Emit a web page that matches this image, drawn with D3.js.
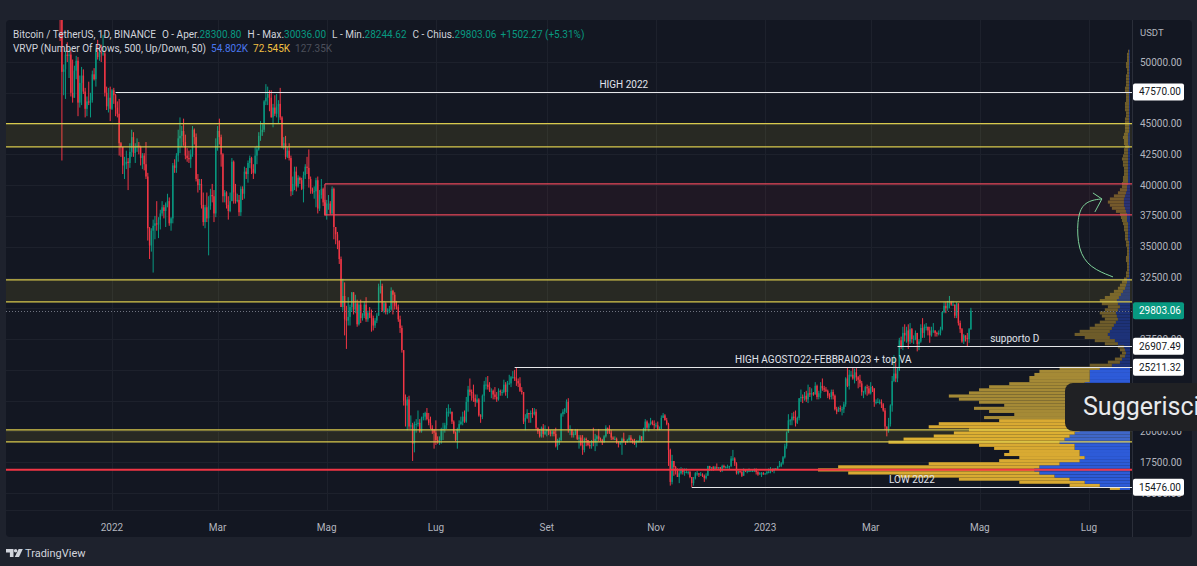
<!DOCTYPE html>
<html>
<head>
<meta charset="utf-8">
<script src="https://cdn.jsdelivr.net/npm/d3@7"></script>
<style>
  html, body { margin: 0; padding: 0; background: #1e222d; }
  svg { display: block; font-family: Roboto, "Trebuchet MS", sans-serif; }
</style>
</head>
<body>
<svg id="chart" width="1197" height="566"></svg>
<script>
// daily BTC/USDT candles, values in hundreds of USDT, first bar 2021-12-01
const startDate = Date.UTC(2021, 11, 1);
const firstOpen = 569;
const closes = [
  570,565,536,492,494,506,505,506,475,471,493,501,467,483,489,476,462,468,467,469,490,486,508,504,508,507,507,475,464,471,462,
  477,473,463,458,434,431,416,417,419,418,427,439,426,431,432,431,422,424,417,407,365,351,363,367,369,368,372,377,382,379,385,
  387,369,373,416,414,424,438,440,444,435,424,422,421,425,445,439,405,400,401,384,370,382,373,383,392,391,377,432,
  444,439,425,391,394,384,379,387,419,394,387,388,378,397,393,411,409,418,422,413,410,424,429,440,443,445,468,471,474,471,455,
  463,458,464,466,455,432,434,423,428,422,395,401,411,399,406,404,397,408,415,414,405,397,395,395,404,381,392,397,386,376,
  385,385,377,397,366,360,355,340,301,310,291,290,293,301,313,299,304,287,303,292,294,303,291,296,295,292,286,290,294,317,318,
  298,304,297,299,299,314,311,302,301,291,284,266,225,221,226,204,205,190,206,206,207,200,211,212,215,210,207,203,201,199,
  193,192,193,202,202,205,216,216,216,208,199,193,202,206,208,212,208,224,234,232,231,227,224,226,213,212,229,238,238,236,233,
  233,230,228,226,233,232,232,238,232,239,239,244,244,243,241,239,233,232,208,211,215,214,215,214,216,203,200,196,203,198,200,
  201,200,198,200,198,188,193,193,214,216,218,224,202,202,197,198,201,194,195,189,185,194,193,189,188,192,191,194,196,194,
  193,191,196,203,202,199,195,194,194,191,190,191,194,192,191,193,195,193,191,190,192,192,196,193,201,208,203,206,208,206,205,
  205,202,202,211,213,209,206,185,159,176,171,168,163,166,169,167,167,167,167,163,158,162,166,166,165,165,164,162,164,172,
  170,171,169,171,170,171,168,172,171,171,171,172,178,178,174,166,168,167,164,169,168,168,168,168,168,169,167,165,166,166,165,
  166,167,167,169,168,170,169,171,172,174,179,188,199,209,209,212,211,207,211,227,228,227,229,226,231,230,231,230,237,228,231,
  237,235,234,233,229,228,232,229,218,216,219,218,218,222,243,237,246,246,243,248,244,242,239,232,232,236,235,231,
  236,235,224,224,224,224,222,217,204,202,206,221,241,247,243,250,274,269,280,278,282,273,283,275,275,280,271,273,284,280,285,
  285,282,278,282,282,280,279,280,283,297,302,300,304,305,303,303,294,304,288,283,273,278,276,275,283.008,298.0306
];
const highs = [
  592,575,576,539,498,509,516,511,509,502,497,505,504,489,496,494,479,472,484,475,493,495,511,518,512,514,522,509,480,479,480,
  478,479,474,468,470,435,431,423,428,422,434,445,443,434,438,435,432,426,426,435,410,366,365,372,375,387,374,380,387,384,386,
  393,390,374,418,421,426,445,455,448,454,441,430,428,429,448,446,442,409,405,405,394,384,394,391,397,401,396,438,
  448,454,441,426,396,395,391,394,422,420,401,393,392,399,399,415,414,420,424,423,417,431,432,443,452,450,469,482,480,477,477,
  466,473,474,469,479,456,439,440,431,434,424,407,415,415,408,407,406,411,417,423,429,407,398,399,406,407,396,405,398,388,
  388,392,387,399,398,366,362,355,342,324,321,302,309,303,313,313,311,307,305,307,296,305,309,298,301,299,294,292,296,320,323,
  320,306,305,300,302,317,315,313,306,303,294,286,266,230,228,229,213,207,208,210,217,210,212,215,216,219,215,212,205,202,
  209,196,196,203,207,207,219,222,219,216,209,200,203,209,212,216,217,228,237,243,234,238,230,230,227,214,230,241,244,245,240,
  235,234,236,232,235,234,234,242,240,241,246,245,249,250,252,243,244,236,232,214,218,215,217,219,219,218,203,202,204,206,205,
  202,204,201,201,201,203,194,195,215,218,219,226,227,205,202,200,202,202,197,197,197,195,195,193,192,193,203,198,197,202,
  195,194,197,205,203,205,201,196,196,195,192,192,195,199,192,194,197,197,194,194,193,193,197,196,203,210,209,207,211,209,209,
  207,208,204,213,215,214,211,207,186,181,176,172,170,170,171,170,170,170,168,168,163,163,167,168,166,167,166,165,166,172,
  172,171,172,172,174,171,171,173,173,172,173,172,180,185,179,175,168,168,168,170,169,169,170,169,169,170,170,168,167,167,167,
  166,168,170,171,170,170,170,172,176,175,180,190,200,214,210,215,216,217,212,227,234,230,232,233,238,236,235,232,240,238,233,
  240,243,237,236,234,231,234,234,230,220,220,221,220,224,244,252,250,249,252,251,252,245,246,241,233,237,238,237,
  240,237,235,226,227,226,226,223,219,204,211,222,245,262,256,252,276,277,285,287,285,287,288,284,278,282,280,275,287,292,287,
  288,285,285,285,288,282,281,282,285,297,305,305,306,310,306,306,303,305,304,290,284,279,278,280,284,300.36
];
const lows = [
  562,558,517,420,473,470,500,487,472,467,471,486,456,463,465,474,455,456,465,455,467,485,480,502,501,500,505,472,461,459,452,
  461,466,456,455,424,423,409,405,413,396,414,423,423,418,427,425,416,413,412,405,355,340,346,329,356,363,357,364,375,373,366,
  382,367,363,369,410,410,419,426,431,432,421,419,418,414,423,433,403,394,396,381,367,365,370,343,380,386,370,374,
  428,433,415,386,386,381,372,378,387,385,385,386,375,375,388,389,405,402,414,409,405,409,417,428,436,440,443,465,465,460,455,
  447,456,455,450,453,430,429,421,422,420,391,392,396,395,398,401,396,386,405,409,398,393,393,389,382,377,379,389,383,375,
  372,380,376,376,356,352,348,336,301,298,278,267,286,286,297,295,296,285,286,288,290,292,289,289,292,281,282,284,288,294,312,
  297,296,295,295,296,298,295,299,299,289,280,264,221,204,201,202,202,176,183,199,204,199,199,209,209,209,205,202,198,186,
  189,190,189,190,193,199,202,212,214,206,198,192,186,199,205,205,207,207,216,229,225,224,220,223,212,207,210,224,234,234,232,
  227,226,226,224,225,229,229,231,229,227,238,236,243,241,237,236,232,230,206,201,210,207,207,211,213,201,198,195,195,195,197,
  196,197,196,196,196,187,185,189,192,212,214,215,199,197,195,195,197,193,186,188,181,183,188,188,186,186,188,184,188,192,
  192,189,191,195,198,198,193,193,193,190,187,189,181,191,189,191,192,191,190,189,187,191,191,191,192,200,202,200,205,205,202,
  203,201,201,202,211,209,205,172,156,157,164,165,163,158,165,165,164,166,165,162,154.76,156,161,164,163,164,163,159,161,164,
  168,168,168,169,169,169,167,167,170,170,170,169,171,176,172,165,165,166,163,164,167,166,167,168,167,167,165,164,165,163,165,
  165,165,166,166,167,166,169,169,171,171,173,178,186,199,205,205,209,204,206,209,224,223,225,224,223,228,225,229,230,226,226,
  227,233,232,232,227,226,226,226,217,214,216,216,213,215,220,236,234,244,242,239,241,235,236,229,227,230,229,230,
  230,232,220,222,223,222,219,216,201,196,199,204,216,240,240,240,249,267,266,273,272,267,271,272,271,274,265,266,272,276,276,
  282,278,272,277,280,277,277,278,278,282,296,296,298,300,302,302,292,292,286,280,272,271,273,269,272,282.4462
];

// visible-range volume profile, 250 USDT rows from 15250, volume in K
const profileStart = 15250;
const profileStep = 250;
const vaHigh = 25211.32;
const volUp = [
  10,30,45,60,75,90,95,90,70,50, 45,50,50,55,55,70,65,60,55,50,
  55,55,45,45,40,45,45,40,45,50, 55,50,50,45,45,40,40,40,40,30,
  18,10,8,5,4,5,6,12,15,20, 22,20,18,16,14,12,13,14,12,10,
  12,13,11,9,7,5,4,3,3,
  1,1,1,1,1,1,1,1,1,1,1,1,2,2,
  2,2,2,2,3,3,
  3,4,5,6,6,6,5,4,3,3,
  2,2,2,2,2,2,2,2,2,2,2,2,1,2,2,2,2,1,1,1,
  1,1,1,1,1,1,1,1,1,1,1,1,1,1,1,1,1,1,1,1,
  1,1,1,1
];
const volDown = [
  10,30,65,110,155,190,215,200,130,80, 65,75,70,80,95,170,160,135,120,110,
  145,135,85,100,75,95,110,85,105,120, 125,110,100,95,75,60,60,55,50,40,
  22,12,7,5,4,5,6,13,20,25, 33,30,22,19,16,13,15,16,13,12,
  16,17,14,11,9,7,6,5,3,
  3,3,2,2,2,3,3,2,2,2,3,3,3,3,
  3,4,4,5,5,6,
  7,10,13,14,16,14,11,8,7,5,
  6,5,5,4,4,4,5,5,6,5,4,4,4,4,4,5,4,4,4,4,
  4,4,3,3,4,4,4,3,3,3,4,4,3,3,3,3,2,2,3,3,
  2,2,2,1
];

const priceTicks = [15000, 17500, 20000, 22500, 25000, 27500, 30000, 32500, 35000, 37500, 40000, 42500, 45000, 47500, 50000];
const timeTicks = [
  ['2022-01-01', '2022'], ['2022-03-01', 'Mar'], ['2022-05-01', 'Mag'], ['2022-07-01', 'Lug'],
  ['2022-09-01', 'Set'], ['2022-11-01', 'Nov'], ['2023-01-01', '2023'], ['2023-03-01', 'Mar'],
  ['2023-05-01', 'Mag'], ['2023-07-01', 'Lug']
];

// drawings
const zones = [
  { lo: 43100, hi: 45000, from: null, kind: 'yellow' },
  { lo: 37580, hi: 40100, from: '2022-04-30', kind: 'red' },
  { lo: 30520, hi: 32300, from: null, kind: 'yellow' },
  { lo: 19150, hi: 20130, from: null, kind: 'yellow' }
];
const redLine = 16880;
const levels = [
  { price: 47570, from: '2022-01-03', label: 'HIGH 2022' },
  { price: 26907.49, from: '2023-03-16', label: 'supporto D' },
  { price: 25211.32, from: '2022-08-14', label: 'HIGH AGOSTO22-FEBBRAIO23 + top VA' },
  { price: 15476, from: '2022-11-21', label: 'LOW 2022' }
];
const lastPrice = 29803.06;
// hand drawn arrow: [days from 2022-01-01, price]
const arrowPath = [[559.4, 32549], [546.5, 33279], [539.8, 34740], [539.3, 37175], [542.1, 38393], [547.7, 38799], [553.2, 38880]];
const arrowHead = [[548.2, 39367], [553.2, 38880], [549.3, 37825]];

const header1 = [
  ['Bitcoin / TetherUS, 1D, BINANCE', 'txt', 0], ['O - Aper.', 'txt', 6], ['28300.80', 'up', 0],
  ['H - Max.', 'txt', 6], ['30036.00', 'up', 0], ['L - Min.', 'txt', 6], ['28244.62', 'up', 0],
  ['C - Chius.', 'txt', 6], ['29803.06', 'up', 0], ['+1502.27 (+5.31%)', 'up', 4]
];
const header2 = [
  ['VRVP (Number Of Rows, 500, Up/Down, 50)', 'txt', 0], ['54.802K', 'blue', 5],
  ['72.545K', 'gold', 5], ['127.35K', 'dim', 5]
];

// ---------------------------------------------------------------
const W = 1197, H = 566;
const PL = 6, PR = 1132, PT = 20, PB = 510;
const C = {
  bg: '#131722', grid: '#1d212c', txt: '#d1d4dc', axis: '#b2b5be',
  up: '#089981', down: '#f23645', blue: '#4a78f0', gold: '#f2c043', dim: '#4c505b'
};
const DAY = 86400000;
const parse = s => new Date(s + 'T00:00:00Z');
const d0 = Date.UTC(2022, 0, 1);
const popup = { x: 1065, y: 383, w: 150, h: 48 };

const svg = d3.select('#chart');

const x = d3.scaleUtc()
  .domain([new Date(d0), parse('2023-07-01')])
  .range([112, 1089]);
const y = d3.scaleLinear().domain([15000, 50000]).range([493, 62]);

const candles = closes.map((c, i) => {
  const o = i ? closes[i - 1] : firstOpen;
  return {
    date: new Date(startDate + i * DAY),
    o: o * 100, c: c * 100,
    h: Math.max(highs[i], o, c) * 100,
    l: Math.min(lows[i], o, c) * 100
  };
});

// panel
svg.append('rect').attr('x', 0).attr('y', 0).attr('width', W).attr('height', H).attr('fill', '#1e222d');
svg.append('rect').attr('x', PL).attr('y', PT).attr('width', 1186).attr('height', 517)
  .attr('rx', 4).attr('fill', C.bg);

svg.append('clipPath').attr('id', 'plot')
  .append('rect').attr('x', PL).attr('y', PT).attr('width', PR - PL).attr('height', PB - PT);

const plot = svg.append('g').attr('clip-path', 'url(#plot)');

// grid
plot.append('g').selectAll('line').data(priceTicks).join('line')
  .attr('x1', PL).attr('x2', PR)
  .attr('y1', d => Math.round(y(d)) + 0.5).attr('y2', d => Math.round(y(d)) + 0.5)
  .attr('stroke', C.grid);
plot.append('g').selectAll('line').data(timeTicks).join('line')
  .attr('x1', d => Math.round(x(parse(d[0]))) + 0.5).attr('x2', d => Math.round(x(parse(d[0]))) + 0.5)
  .attr('y1', PT).attr('y2', PB)
  .attr('stroke', C.grid);

// volume profile (up = blue against the scale, down = gold)
const bins = volUp.map((u, i) => ({ lo: profileStart + i * profileStep, up: u, down: volDown[i] }));
const vx = d3.scaleLinear().domain([0, d3.max(bins, d => d.up + d.down)]).range([0, 312]);
const vRight = 1130;
const goldFor = p => p < 21000 ? '#d9aa32' : p < vaHigh ? '#a58a36' : '#6e5c2a';
const gProf = plot.append('g');
bins.forEach(b => {
  const mid = b.lo + profileStep / 2;
  const top = y(b.lo + profileStep), h = y(b.lo) - top;
  gProf.append('rect')
    .attr('x', vRight - vx(b.up)).attr('y', top).attr('width', vx(b.up)).attr('height', h)
    .attr('fill', mid < vaHigh ? '#2d5bd8' : '#1d3278');
  gProf.append('rect')
    .attr('x', vRight - vx(b.up + b.down)).attr('y', top).attr('width', vx(b.down)).attr('height', h)
    .attr('fill', goldFor(mid));
});

// candles
const gC = plot.append('g');
gC.selectAll('line').data(candles).join('line')
  .attr('x1', d => x(d.date)).attr('x2', d => x(d.date))
  .attr('y1', d => y(d.h)).attr('y2', d => y(d.l))
  .attr('stroke', d => d.c >= d.o ? C.up : C.down).attr('stroke-width', 1);
gC.selectAll('rect').data(candles).join('rect')
  .attr('x', d => x(d.date) - 0.7).attr('width', 1.4)
  .attr('y', d => y(Math.max(d.o, d.c)))
  .attr('height', d => Math.max(1, Math.abs(y(d.o) - y(d.c))))
  .attr('fill', d => d.c >= d.o ? C.up : C.down);

// zones
const gZ = plot.append('g');
zones.forEach(z => {
  const x0 = z.from ? x(parse(z.from)) : PL;
  const col = z.kind === 'red' ? '#e8485a' : '#d8c94c';
  const fill = z.kind === 'red' ? 'rgba(242,54,69,0.06)' : 'rgba(255,235,59,0.09)';
  gZ.append('rect').attr('x', x0).attr('y', y(z.hi)).attr('width', PR - x0).attr('height', y(z.lo) - y(z.hi))
    .attr('fill', fill);
  [z.lo, z.hi].forEach(p => gZ.append('line')
    .attr('x1', x0).attr('x2', PR).attr('y1', y(p)).attr('y2', y(p))
    .attr('stroke', col).attr('stroke-width', 1.2));
  if (z.from) {
    gZ.append('line').attr('x1', x0).attr('x2', x0).attr('y1', y(z.hi)).attr('y2', y(z.lo))
      .attr('stroke', col).attr('stroke-width', 1.2);
  }
});
plot.append('line').attr('x1', PL).attr('x2', PR).attr('y1', y(redLine)).attr('y2', y(redLine))
  .attr('stroke', '#f23645').attr('stroke-width', 2);

// last price dotted line
plot.append('line').attr('x1', PL).attr('x2', PR)
  .attr('y1', Math.round(y(lastPrice)) + 0.5).attr('y2', Math.round(y(lastPrice)) + 0.5)
  .attr('stroke', '#6f7380').attr('stroke-dasharray', '1,2');

// level lines + labels
levels.forEach(l => {
  const x0 = x(parse(l.from)), yy = Math.round(y(l.price)) + 0.5;
  plot.append('line').attr('x1', x0).attr('x2', PR).attr('y1', yy).attr('y2', yy)
    .attr('stroke', '#e6e7ea').attr('stroke-width', 1);
  plot.append('text').attr('x', (x0 + PR) / 2).attr('y', yy - 5)
    .attr('text-anchor', 'middle').attr('font-size', 10).attr('fill', '#e0e3eb')
    .text(l.label);
});

// arrow
const ax = d => x(new Date(d0 + d[0] * DAY));
const line = d3.line().x(ax).y(d => y(d[1])).curve(d3.curveBasis);
plot.append('path').attr('d', line(arrowPath)).attr('fill', 'none')
  .attr('stroke', '#7fd39a').attr('stroke-width', 1);
plot.append('path').attr('d', d3.line().x(ax).y(d => y(d[1]))(arrowHead)).attr('fill', 'none')
  .attr('stroke', '#7fd39a').attr('stroke-width', 1);

// header
const hdr = (rows, yy) => {
  const t = svg.append('text').attr('x', 13).attr('y', yy).attr('font-size', 10);
  rows.forEach(r => t.append('tspan').attr('dx', r[2]).attr('fill', C[r[1]]).text(r[0]));
};
hdr(header1, 38);
hdr(header2, 52);

// axes
svg.append('line').attr('x1', PR + 0.5).attr('x2', PR + 0.5).attr('y1', PT).attr('y2', 537).attr('stroke', '#2a2e39');
svg.append('line').attr('x1', PL).attr('x2', 1192).attr('y1', PB + 0.5).attr('y2', PB + 0.5).attr('stroke', '#1d212c');

// price labels fully covered by a badge or by the popup are not drawn (TradingView hides them too)
const badgePrices = levels.map(l => l.price).concat([lastPrice]);
const covered = p => badgePrices.some(b => Math.abs(y(b) - y(p)) < 5) ||
  (y(p) - 5 > popup.y && y(p) + 5 < popup.y + popup.h);

svg.append('text').attr('x', 1140).attr('y', 36).attr('font-size', 9.5).attr('fill', C.axis).text('USDT');
svg.append('g').selectAll('text').data(priceTicks.filter(p => !covered(p))).join('text')
  .attr('x', 1140).attr('y', d => y(d)).attr('dy', '0.35em')
  .attr('font-size', 10).attr('fill', C.axis)
  .text(d => d3.format('.2f')(d));

svg.append('g').selectAll('text').data(timeTicks).join('text')
  .attr('x', d => x(parse(d[0]))).attr('y', 531)
  .attr('text-anchor', 'middle').attr('font-size', 10).attr('fill', C.axis)
  .text(d => d[1]);

// price badges
const badge = (p, fill, color) => {
  const yy = y(p);
  svg.append('rect').attr('x', 1133).attr('y', yy - 8.5).attr('width', 51).attr('height', 17)
    .attr('rx', 2).attr('fill', fill);
  svg.append('text').attr('x', 1139).attr('y', yy).attr('dy', '0.35em')
    .attr('font-size', 10).attr('fill', color).text(d3.format('.2f')(p));
};
levels.forEach(l => badge(l.price, '#ffffff', '#131722'));
badge(lastPrice, C.up, '#ffffff');

// footer logo
const logo = svg.append('g').attr('fill', C.txt);
logo.append('path').attr('d', 'M6 549h7.5v8h-3.6v-4.4H6z');
logo.append('circle').attr('cx', 15.6).attr('cy', 550.8).attr('r', 1.7);
logo.append('path').attr('d', 'M18.6 549h4.2l-3.8 8h-4.2z');
svg.append('text').attr('x', 25).attr('y', 557).attr('font-size', 11).attr('fill', C.txt).text('TradingView');

// browser suggestion popup
svg.append('rect').attr('x', popup.x).attr('y', popup.y).attr('width', popup.w).attr('height', popup.h)
  .attr('rx', 8).attr('fill', '#202124');
svg.append('text').attr('x', 1083).attr('y', 415).attr('font-size', 25).attr('fill', '#e8eaed')
  .attr('font-family', 'Roboto, "Open Sans", sans-serif').text('Suggerisci');
</script>
</body>
</html>
